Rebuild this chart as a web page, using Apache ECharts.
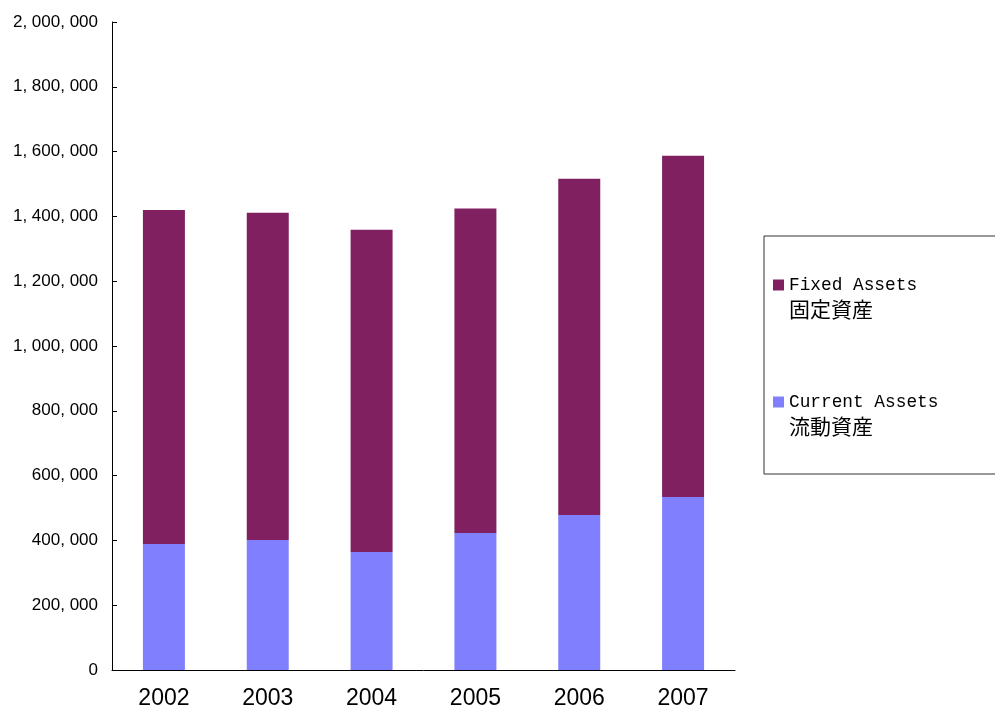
<!DOCTYPE html>
<html lang="ja">
<head>
    <meta charset="UTF-8">
    <title>Assets 2002-2007</title>
    <style>
        * { margin: 0; padding: 0; }
        html, body { width: 995px; height: 711px; background: #fff; overflow: hidden; }
        #chart { width: 995px; height: 711px; }
    </style>
</head>
<body>
    <div id="chart"></div>

    <script src="https://cdn.jsdelivr.net/npm/echarts@6/dist/echarts.min.js"></script>
    <script>
        // data
        const years = ['2002', '2003', '2004', '2005', '2006', '2007'];
        const currentAssets = [389000, 401500, 364400, 423100, 478700, 534300];
        const fixedAssets = [1031000, 1009500, 994600, 1000900, 1037300, 1052700];
        const seriesNames = ['Fixed Assets', 'Current Assets'];
        const seriesNamesJa = ['固定資産', '流動資産'];

        const chart = echarts.init(document.getElementById('chart'));

        const option = {
            animation: false,
            grid: { left: 112, right: 260, top: 22, bottom: 41 },
            legend: {
                orient: 'vertical',
                left: 764,
                top: 236,
                data: seriesNames,
                icon: 'rect',
                itemWidth: 11,
                itemHeight: 11,
                itemGap: 45,
                padding: [13, 70, 36, 9],
                borderColor: '#333',
                borderWidth: 1,
                borderRadius: 0,
                formatter: name => {
                    const i = seriesNames.indexOf(name);
                    return '{en|' + name + '}\n{ja|' + seriesNamesJa[i] + '}';
                },
                textStyle: {
                    color: '#000',
                    padding: [24, 0, 0, 0],
                    lineHeight: 24,
                    rich: {
                        en: { fontFamily: 'Liberation Mono', fontSize: 17.8, lineHeight: 24, color: '#000' },
                        ja: { fontFamily: 'Noto Sans CJK JP', fontSize: 21, lineHeight: 24, color: '#000' }
                    }
                }
            },
            xAxis: {
                type: 'category',
                data: years,
                axisLine: { lineStyle: { color: '#000', width: 1 } },
                axisTick: { show: false },
                axisLabel: {
                    color: '#000',
                    fontFamily: 'Liberation Sans, sans-serif',
                    fontSize: 23,
                    margin: 17
                }
            },
            yAxis: {
                type: 'value',
                min: 0,
                max: 2000000,
                interval: 200000,
                splitLine: { show: false },
                axisLine: { show: true, lineStyle: { color: '#000', width: 1 } },
                axisTick: { show: true, inside: true, length: 5, lineStyle: { color: '#000' } },
                axisLabel: {
                    color: '#000',
                    fontFamily: 'Liberation Sans, sans-serif',
                    fontSize: 17,
                    margin: 14,
                    formatter: v => v.toLocaleString('en-US').replace(/,/g, ', ')
                }
            },
            series: [
                {
                    name: 'Current Assets',
                    type: 'bar',
                    stack: 'total',
                    barWidth: 42,
                    itemStyle: { color: '#8080FF' },
                    data: currentAssets
                },
                {
                    name: 'Fixed Assets',
                    type: 'bar',
                    stack: 'total',
                    barWidth: 42,
                    itemStyle: { color: '#802060' },
                    data: fixedAssets
                }
            ]
        };

        chart.setOption(option);
    </script>
</body>
</html>
